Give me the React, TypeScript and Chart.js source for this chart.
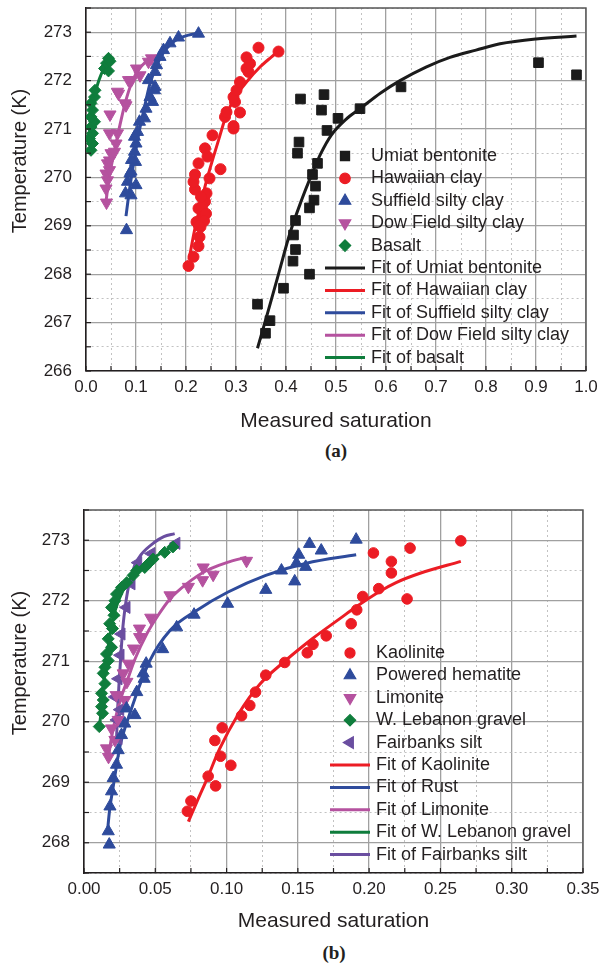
import React, { useEffect, useRef } from 'react';
import { Chart, registerables } from 'chart.js';
import { drawPoint } from 'chart.js/helpers';

Chart.register(...registerables);

type Pt = [number, number];

// ---------------- Panel (a) data ----------------
const aXTicks = [0, 0.1, 0.2, 0.3, 0.4, 0.5, 0.6, 0.7, 0.8, 0.9, 1.0];
const aYTicks = [266, 267, 268, 269, 270, 271, 272, 273];

const umiatBentonite: Pt[] = [
  [0.429, 271.62], [0.476, 271.71], [0.471, 271.39], [0.504, 271.22], [0.482, 270.97],
  [0.548, 271.42], [0.63, 271.87], [0.905, 272.37], [0.981, 272.12], [0.426, 270.73],
  [0.423, 270.5], [0.463, 270.29], [0.453, 270.06], [0.459, 269.82], [0.456, 269.53],
  [0.447, 269.37], [0.419, 269.11], [0.415, 268.81], [0.419, 268.51], [0.414, 268.27],
  [0.447, 268.0], [0.395, 267.71], [0.343, 267.38], [0.368, 267.04], [0.359, 266.78],
];
const hawaiianClay: Pt[] = [
  [0.205, 268.17], [0.215, 268.36], [0.225, 268.58], [0.227, 268.77], [0.229, 268.98],
  [0.221, 269.08], [0.235, 269.19], [0.225, 269.36], [0.238, 269.5], [0.241, 269.67],
  [0.218, 269.75], [0.215, 269.91], [0.247, 269.98], [0.218, 270.06], [0.269, 270.17],
  [0.225, 270.29], [0.243, 270.43], [0.238, 270.6], [0.253, 270.87], [0.295, 271.01],
  [0.295, 271.06], [0.278, 271.25], [0.281, 271.35], [0.308, 271.34], [0.298, 271.56],
  [0.295, 271.66], [0.301, 271.8], [0.308, 271.97], [0.325, 272.18], [0.321, 272.25],
  [0.328, 272.35], [0.321, 272.48], [0.345, 272.68], [0.385, 272.6], [0.232, 269.4],
  [0.24, 269.25], [0.23, 269.6], [0.236, 269.1], [0.226, 269.0],
];
const suffieldSiltyClay: Pt[] = [
  [0.081, 268.91], [0.09, 269.63], [0.079, 269.67], [0.1, 269.84], [0.083, 269.91],
  [0.09, 270.12], [0.099, 270.32], [0.097, 270.53], [0.1, 270.7], [0.097, 270.84],
  [0.103, 270.94], [0.107, 271.15], [0.117, 271.22], [0.12, 271.42], [0.133, 271.56],
  [0.128, 271.66], [0.137, 271.8], [0.138, 271.87], [0.125, 272.01], [0.138, 272.18],
  [0.141, 272.32], [0.148, 272.49], [0.155, 272.63], [0.168, 272.77], [0.185, 272.89],
  [0.225, 272.97], [0.091, 270.36], [0.088, 270.08],
];
const dowFieldSiltyClay: Pt[] = [
  [0.041, 269.48], [0.04, 269.77], [0.043, 269.94], [0.04, 270.08], [0.047, 270.15],
  [0.043, 270.29], [0.047, 270.35], [0.05, 270.5], [0.057, 270.53], [0.06, 270.7],
  [0.047, 270.91], [0.063, 270.91], [0.048, 271.3], [0.08, 271.49], [0.078, 271.53],
  [0.065, 271.73], [0.063, 271.77], [0.085, 272.01], [0.091, 272.01], [0.108, 272.11],
  [0.101, 272.25], [0.125, 272.39], [0.131, 272.46],
];
const basalt: Pt[] = [
  [0.01, 270.56], [0.013, 270.7], [0.007, 270.8], [0.013, 270.91], [0.01, 271.04],
  [0.017, 271.15], [0.01, 271.25], [0.013, 271.39], [0.01, 271.53], [0.017, 271.66],
  [0.018, 271.8], [0.037, 272.25], [0.045, 272.2], [0.041, 272.36], [0.048, 272.4],
  [0.045, 272.46],
];
const fitUmiat: Pt[] = [
  [0.343, 266.47], [0.363, 267.19], [0.385, 268.0], [0.408, 268.85], [0.43, 269.5],
  [0.449, 270.0], [0.47, 270.5], [0.491, 270.88], [0.52, 271.2], [0.548, 271.42],
  [0.59, 271.75], [0.628, 272.0], [0.68, 272.28], [0.728, 272.48], [0.78, 272.63],
  [0.828, 272.76], [0.9, 272.86], [0.981, 272.92],
];
const fitHawaiian: Pt[] = [
  [0.206, 268.3], [0.217, 268.9], [0.228, 269.39], [0.239, 269.85], [0.251, 270.29],
  [0.266, 270.8], [0.281, 271.3], [0.3, 271.68], [0.321, 271.97], [0.348, 272.28],
  [0.37, 272.48], [0.388, 272.63],
];
const fitSuffield: Pt[] = [
  [0.08, 269.2], [0.085, 269.6], [0.09, 269.95], [0.097, 270.4], [0.107, 270.98],
  [0.117, 271.45], [0.127, 271.9], [0.135, 272.15], [0.143, 272.35], [0.155, 272.58],
  [0.17, 272.76], [0.188, 272.88], [0.205, 272.94], [0.225, 272.98],
];
const fitDowField: Pt[] = [
  [0.04, 269.5], [0.045, 269.9], [0.05, 270.2], [0.057, 270.55], [0.063, 270.85],
  [0.07, 271.18], [0.08, 271.6], [0.09, 271.92], [0.1, 272.14], [0.112, 272.31],
  [0.125, 272.43], [0.14, 272.5], [0.146, 272.53],
];
const fitBasalt: Pt[] = [
  [0.01, 270.6], [0.012, 271.0], [0.014, 271.4], [0.018, 271.7], [0.024, 271.95],
  [0.03, 272.12], [0.038, 272.3], [0.048, 272.46],
];

// ---------------- Panel (b) data ----------------
const bXTicks = [0, 0.05, 0.1, 0.15, 0.2, 0.25, 0.3, 0.35];
const bYTicks = [268, 269, 270, 271, 272, 273];

const kaolinite: Pt[] = [
  [0.2643, 272.99], [0.2287, 272.87], [0.203, 272.79], [0.2156, 272.65], [0.2156, 272.46],
  [0.2067, 272.2], [0.1955, 272.07], [0.2266, 272.03], [0.1913, 271.85], [0.1874, 271.62],
  [0.1699, 271.42], [0.1606, 271.28], [0.1566, 271.14], [0.1408, 270.98], [0.1275, 270.77],
  [0.1203, 270.49], [0.1163, 270.27], [0.1105, 270.1], [0.0969, 269.9], [0.0918, 269.69],
  [0.0958, 269.43], [0.103, 269.28], [0.0871, 269.1], [0.0923, 268.94], [0.075, 268.69],
  [0.0725, 268.52],
];
const poweredHematite: Pt[] = [
  [0.1909, 273.01], [0.1582, 272.94], [0.1664, 272.83], [0.1506, 272.76], [0.149, 272.62],
  [0.1555, 272.56], [0.1385, 272.5], [0.1478, 272.32], [0.1275, 272.18], [0.1007, 271.95],
  [0.0772, 271.77], [0.065, 271.56], [0.0552, 271.2], [0.0436, 270.96], [0.0422, 270.71],
  [0.037, 270.49], [0.0415, 270.8], [0.0298, 270.22], [0.0357, 270.11], [0.0286, 269.97],
  [0.0263, 269.78], [0.024, 269.53], [0.0228, 269.29], [0.0205, 269.07], [0.0193, 268.85],
  [0.0182, 268.6], [0.017, 268.19], [0.0177, 267.97],
];
const limonite: Pt[] = [
  [0.114, 272.66], [0.0906, 272.43], [0.0836, 272.55], [0.0832, 272.34], [0.0732, 272.23],
  [0.0603, 272.09], [0.0468, 271.72], [0.0389, 271.54], [0.039, 271.4], [0.0347, 271.21],
  [0.0312, 270.96], [0.0301, 270.66], [0.0275, 270.8], [0.0226, 270.44], [0.0287, 270.36],
  [0.024, 270.03], [0.0217, 269.7], [0.0193, 269.89], [0.0158, 269.56], [0.0172, 269.42],
];
const wLebanonGravel: Pt[] = [
  [0.0624, 272.89], [0.0566, 272.8], [0.0485, 272.69], [0.045, 272.61], [0.0426, 272.55],
  [0.037, 272.5], [0.0345, 272.42], [0.03, 272.3], [0.0263, 272.22], [0.0228, 272.11],
  [0.0217, 272.0], [0.0193, 271.89], [0.021, 271.76], [0.018, 271.62], [0.02, 271.54],
  [0.017, 271.37], [0.0193, 271.23], [0.0158, 271.12], [0.017, 271.01], [0.0147, 270.9],
  [0.0135, 270.8], [0.0147, 270.63], [0.0123, 270.47], [0.0135, 270.36], [0.0123, 270.25],
  [0.013, 270.14], [0.0107, 269.92],
];
const fairbanksSilt: Pt[] = [
  [0.0648, 272.95], [0.0473, 272.78], [0.038, 272.63], [0.0333, 272.28], [0.0298, 271.89],
  [0.0263, 271.45], [0.0256, 271.1], [0.0242, 270.71], [0.0219, 270.41], [0.0254, 270.2],
  [0.0231, 270.03], [0.0242, 269.72],
];
const fitKaolinite: Pt[] = [
  [0.0732, 268.35], [0.08, 268.72], [0.086, 269.04], [0.0951, 269.55], [0.1081, 270.12],
  [0.1233, 270.62], [0.1408, 271.0], [0.1606, 271.38], [0.1792, 271.7], [0.1909, 271.9],
  [0.2071, 272.15], [0.2189, 272.3], [0.2352, 272.45], [0.2643, 272.65],
];
const fitRust: Pt[] = [
  [0.0163, 268.15], [0.018, 268.55], [0.0205, 268.93], [0.0252, 269.59], [0.0322, 270.14],
  [0.0462, 271.01], [0.0603, 271.51], [0.079, 271.84], [0.1007, 272.14], [0.1275, 272.42],
  [0.156, 272.62], [0.1909, 272.76],
];
const fitLimonite: Pt[] = [
  [0.0168, 269.35], [0.019, 269.7], [0.022, 270.05], [0.026, 270.4], [0.03, 270.66],
  [0.036, 271.05], [0.044, 271.45], [0.052, 271.76], [0.0603, 272.03], [0.072, 272.28],
  [0.086, 272.5], [0.1, 272.63], [0.114, 272.72],
];
const fitWLebanon: Pt[] = [
  [0.011, 269.95], [0.013, 270.4], [0.015, 270.9], [0.018, 271.4], [0.022, 271.85],
  [0.028, 272.2], [0.035, 272.45], [0.045, 272.65], [0.055, 272.8], [0.064, 272.92],
];
const fitFairbanks: Pt[] = [
  [0.0228, 269.7], [0.0236, 270.2], [0.0245, 270.6], [0.0256, 271.01], [0.0267, 271.4],
  [0.028, 271.73], [0.0316, 272.28], [0.0355, 272.58], [0.0403, 272.77], [0.0497, 272.97],
  [0.056, 273.06], [0.0636, 273.11],
];

// ---------------- styling ----------------
const FONT = '"Liberation Sans", Arial, Helvetica, sans-serif';
const TEXT = '#231f20';
const BLACK = '#1b1b1b';
const RED = '#ec1c24';
const BLUE = '#2e4b9c';
const MAGENTA = '#b5529f';
const GREEN = '#0f7d3c';
const PURPLE = '#6a4ea0';

const near = (v: number, step: number) => Math.abs(v / step - Math.round(v / step)) < 1e-6;

function pointsDs(label: string, pts: Pt[], color: string, style: string, radius: number, rotation = 0) {
  return {
    label,
    data: pts.map(([x, y]) => ({ x, y })),
    showLine: false,
    pointStyle: style,
    pointRadius: radius,
    pointHoverRadius: radius,
    pointRotation: rotation,
    backgroundColor: color,
    borderColor: color,
    pointBackgroundColor: color,
    pointBorderColor: color,
    pointBorderWidth: 1,
  };
}

function fitDs(label: string, pts: Pt[], color: string) {
  return {
    label,
    data: pts.map(([x, y]) => ({ x, y })),
    showLine: true,
    pointRadius: 0,
    pointHoverRadius: 0,
    borderColor: color,
    backgroundColor: color,
    borderWidth: 3,
    cubicInterpolationMode: 'monotone',
    fill: false,
  };
}

const decorPlugin = {
  id: 'decor',
  afterDatasetsDraw(chart: any, _args: any, opts: any) {
    const { ctx, chartArea: ca } = chart;
    const xs = chart.scales.x;
    const ys = chart.scales.y;
    ctx.save();
    // top / right frame
    ctx.strokeStyle = '#555555';
    ctx.lineWidth = 1.4;
    ctx.beginPath();
    ctx.moveTo(ca.left, ca.top);
    ctx.lineTo(ca.right, ca.top);
    ctx.lineTo(ca.right, ca.bottom);
    ctx.stroke();
    // inward ticks
    ctx.strokeStyle = TEXT;
    ctx.lineWidth = 1.2;
    xs.ticks.forEach((t: any) => {
      const p = xs.getPixelForValue(t.value);
      ctx.beginPath();
      ctx.moveTo(p, ca.bottom);
      ctx.lineTo(p, ca.bottom - 5);
      ctx.stroke();
    });
    ys.ticks.forEach((t: any) => {
      const p = ys.getPixelForValue(t.value);
      ctx.beginPath();
      ctx.moveTo(ca.left, p);
      ctx.lineTo(ca.left + 5, p);
      ctx.stroke();
    });
    // legend
    const lg = opts.legend;
    const mx = ca.left + lg.dx;
    let y = ca.top + lg.dy;
    ctx.font = `${lg.fontSize}px ${FONT}`;
    ctx.textBaseline = 'middle';
    ctx.textAlign = 'left';
    chart.data.datasets.forEach((ds: any) => {
      if (ds.showLine) {
        ctx.strokeStyle = ds.borderColor;
        ctx.lineWidth = ds.borderWidth;
        ctx.beginPath();
        ctx.moveTo(mx - lg.lineHalf, y);
        ctx.lineTo(mx + lg.lineHalf, y);
        ctx.stroke();
      } else {
        ctx.fillStyle = ds.backgroundColor;
        ctx.strokeStyle = ds.borderColor;
        drawPoint(ctx, {
          pointStyle: ds.pointStyle,
          rotation: ds.pointRotation,
          radius: ds.pointRadius * 0.95,
          borderWidth: 1,
        }, mx, y);
      }
      ctx.fillStyle = TEXT;
      ctx.fillText(ds.label, mx + lg.textGap, y);
      y += lg.rowH;
    });
    // y axis title
    const yt = opts.yTitle;
    ctx.save();
    ctx.translate(yt.x, ca.top + yt.dy);
    ctx.rotate(-Math.PI / 2);
    ctx.textAlign = 'center';
    ctx.textBaseline = 'middle';
    ctx.font = `${yt.fontSize}px ${FONT}`;
    ctx.fillStyle = TEXT;
    ctx.fillText(yt.text, 0, 0);
    ctx.restore();
    ctx.restore();
  },
};

function buildConfig(p: {
  datasets: any[];
  xMin: number; xMax: number; xStep: number; xMajor: number; xDigits: number; xLabels: number[];
  yMin: number; yMax: number; yLabels: number[];
  yWidth: number; xHeight: number; padTop: number; padRight: number;
  legendDx: number; legendDy: number; yTitleDy: number;
}) {
  const majorX = (v: number) => near(v, p.xMajor);
  const majorY = (v: number) => near(v, 1);
  return {
    type: 'scatter',
    data: { datasets: p.datasets },
    plugins: [decorPlugin],
    options: {
      responsive: false,
      animation: false,
      devicePixelRatio: 1,
      layout: { padding: { left: 0, right: p.padRight, top: p.padTop, bottom: 0 } },
      plugins: {
        legend: { display: false },
        tooltip: { enabled: false },
        decor: {
          legend: { dx: p.legendDx, dy: p.legendDy, rowH: 22.4, lineHalf: 20, textGap: 26, fontSize: 18 },
          yTitle: { text: 'Temperature (K)', x: 20, dy: p.yTitleDy, fontSize: 20 },
        },
      },
      scales: {
        x: {
          type: 'linear',
          min: p.xMin,
          max: p.xMax,
          afterFit: (s: any) => {
            s.height = p.xHeight;
            s.paddingLeft = 0;
            s.paddingRight = 0;
            s.paddingTop = 0;
            s.paddingBottom = 0;
          },
          ticks: {
            stepSize: p.xStep,
            autoSkip: false,
            maxRotation: 0,
            padding: 6,
            color: TEXT,
            font: { family: FONT, size: 17 },
            callback: (v: number) => {
              const hit = p.xLabels.find((l) => Math.abs(l - v) < 1e-6);
              return hit === undefined ? '' : hit.toFixed(p.xDigits);
            },
          },
          grid: {
            drawTicks: false,
            color: (c: any) => (c.tick && majorX(c.tick.value) ? '#a0a0a0' : '#c2c2c2'),
            lineWidth: (c: any) => (c.tick && majorX(c.tick.value) ? 1.3 : 1),
          },
          border: {
            color: TEXT,
            width: 1.6,
            dash: (c: any) => (c.tick && !majorX(c.tick.value) ? [2, 3] : []),
          },
          title: {
            display: true,
            text: 'Measured saturation',
            color: TEXT,
            font: { family: FONT, size: 21 },
            padding: { top: 4, bottom: 6 },
          },
        },
        y: {
          type: 'linear',
          min: p.yMin,
          max: p.yMax,
          afterFit: (s: any) => {
            s.width = p.yWidth;
            s.paddingLeft = 0;
            s.paddingRight = 0;
            s.paddingTop = 0;
            s.paddingBottom = 0;
          },
          ticks: {
            stepSize: 0.5,
            autoSkip: false,
            padding: 14,
            color: TEXT,
            font: { family: FONT, size: 17 },
            callback: (v: number) => {
              const hit = p.yLabels.find((l) => Math.abs(l - v) < 1e-6);
              return hit === undefined ? '' : String(hit);
            },
          },
          grid: {
            drawTicks: false,
            color: (c: any) => (c.tick && majorY(c.tick.value) ? '#a0a0a0' : '#c2c2c2'),
            lineWidth: (c: any) => (c.tick && majorY(c.tick.value) ? 1.3 : 1),
          },
          border: {
            color: TEXT,
            width: 1.6,
            dash: (c: any) => (c.tick && !majorY(c.tick.value) ? [2, 3] : []),
          },
          title: { display: false },
        },
      },
    },
  };
}

function configA() {
  return buildConfig({
    datasets: [
      pointsDs('Umiat bentonite', umiatBentonite, BLACK, 'rect', 6.8),
      pointsDs('Hawaiian clay', hawaiianClay, RED, 'circle', 5.5),
      pointsDs('Suffield silty clay', suffieldSiltyClay, BLUE, 'triangle', 7),
      pointsDs('Dow Field silty clay', dowFieldSiltyClay, MAGENTA, 'triangle', 7, 180),
      pointsDs('Basalt', basalt, GREEN, 'rectRot', 6),
      fitDs('Fit of Umiat bentonite', fitUmiat, BLACK),
      fitDs('Fit of Hawaiian clay', fitHawaiian, RED),
      fitDs('Fit of Suffield silty clay', fitSuffield, BLUE),
      fitDs('Fit of Dow Field silty clay', fitDowField, MAGENTA),
      fitDs('Fit of basalt', fitBasalt, GREEN),
    ],
    xMin: 0, xMax: 1, xStep: 0.05, xMajor: 0.1, xDigits: 1, xLabels: aXTicks,
    yMin: 266, yMax: 273.5, yLabels: aYTicks,
    yWidth: 86, xHeight: 69, padTop: 8, padRight: 14,
    legendDx: 259, legendDy: 148, yTitleDy: 153,
  });
}

function configB() {
  return buildConfig({
    datasets: [
      pointsDs('Kaolinite', kaolinite, RED, 'circle', 5.3),
      pointsDs('Powered hematite', poweredHematite, BLUE, 'triangle', 7),
      pointsDs('Limonite', limonite, MAGENTA, 'triangle', 7, 180),
      pointsDs('W. Lebanon gravel', wLebanonGravel, GREEN, 'rectRot', 6),
      pointsDs('Fairbanks silt', fairbanksSilt, PURPLE, 'triangle', 7, 270),
      fitDs('Fit of Kaolinite', fitKaolinite, RED),
      fitDs('Fit of Rust', fitRust, BLUE),
      fitDs('Fit of Limonite', fitLimonite, MAGENTA),
      fitDs('Fit of W. Lebanon gravel', fitWLebanon, GREEN),
      fitDs('Fit of Fairbanks silt', fitFairbanks, PURPLE),
    ],
    xMin: 0, xMax: 0.35, xStep: 0.025, xMajor: 0.05, xDigits: 2, xLabels: bXTicks,
    yMin: 267.5, yMax: 273.5, yLabels: bYTicks,
    yWidth: 84, xHeight: 67, padTop: 40, padRight: 17,
    legendDx: 266, legendDy: 143, yTitleDy: 153,
  });
}

function ChartCanvas({ make, width, height }: { make: () => any; width: number; height: number }) {
  const ref = useRef<HTMLCanvasElement | null>(null);
  useEffect(() => {
    if (!ref.current) return;
    const chart = new Chart(ref.current, make());
    return () => chart.destroy();
  }, [make]);
  return <canvas ref={ref} width={width} height={height} style={{ display: 'block', width, height }} />;
}

const captionStyle: React.CSSProperties = {
  position: 'absolute',
  width: 600,
  textAlign: 'center',
  fontFamily: '"Liberation Serif", "Times New Roman", serif',
  fontWeight: 'bold',
  fontSize: 19,
  lineHeight: '20px',
  color: TEXT,
};

export default function App() {
  return (
    <div style={{ position: 'absolute', left: 0, top: 0, width: 600, height: 968, background: '#ffffff', overflow: 'hidden' }}>
      <div style={{ position: 'absolute', left: 0, top: 0 }}>
        <ChartCanvas make={configA} width={600} height={440} />
      </div>
      <div style={{ ...captionStyle, left: 36, top: 441, width: 600 }}>(a)</div>
      <div style={{ position: 'absolute', left: 0, top: 470 }}>
        <ChartCanvas make={configB} width={600} height={470} />
      </div>
      <div style={{ ...captionStyle, left: 34, top: 943, width: 600 }}>(b)</div>
    </div>
  );
}
